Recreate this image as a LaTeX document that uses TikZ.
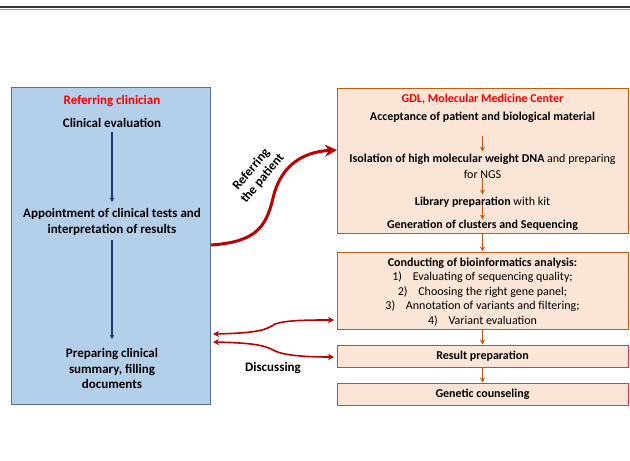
\documentclass[tikz,border=0pt]{standalone}
\usepackage{fontspec}
\setmainfont{Carlito}
\usetikzlibrary{arrows.meta}
\definecolor{clinfill}{HTML}{B4CFEA}
\definecolor{clindraw}{HTML}{5A6F96}
\definecolor{labfill}{HTML}{FBE5D6}
\definecolor{labdraw}{HTML}{C55A11}
\definecolor{resdraw}{HTML}{E03C3C}
\definecolor{navy}{HTML}{1F3864}
\definecolor{darkred}{HTML}{C00000}
\tikzset{
  ltxt/.style={font=\fontsize{12}{16}\selectfont, align=center, inner sep=0pt},
  lbtxt/.style={font=\fontsize{12}{16}\selectfont\bfseries, align=center, inner sep=0pt},
  ctxt/.style={font=\fontsize{13}{16}\selectfont\bfseries, align=center, inner sep=0pt},
  ctitle/.style={ctxt, text=red},
  ltitle/.style={lbtxt, text=red},
  clinbox/.style={draw=clindraw, line width=1pt, fill=clinfill, inner sep=0pt},
  labbox/.style={draw=labdraw, line width=1pt, fill=labfill, inner sep=0pt},
  resbox/.style={draw=resdraw, line width=1pt, fill=labfill, inner sep=0pt},
  navyarrow/.style={draw=navy, line width=1.3pt, -{Stealth[length=4.5pt,width=4.5pt]}},
  orarrow/.style={draw=labdraw, line width=1.4pt, -{Stealth[length=5pt,width=5pt]}},
  refarrow/.style={draw=darkred, line width=3pt, -{Stealth[length=12pt,width=12pt]}},
  discarrow/.style={draw=darkred, line width=1.6pt, {Stealth[length=6pt,width=6pt]}-{Stealth[length=6pt,width=6pt]}},
}
\begin{document}
\begin{tikzpicture}[x=1pt, y=-1pt]
\useasboundingbox (0,0) rectangle (630,461);
% header rule
\draw[line width=2pt, draw=black!80] (0,7) -- (630,7);
\draw[line width=0.8pt, draw=black!40] (0,9.3) -- (630,9.3);

% referring clinician column
\node[clinbox, minimum width=199pt, minimum height=317pt] (clin) at (110.5,245.5) {};
\node[ctitle] (clinT) at (112,101) {Referring clinician};
\node[ctxt] (ceval) at (112,123) {Clinical evaluation};
\node[ctxt] (appt) at (112,221.5) {Appointment of clinical tests and\\interpretation of results};
\node[ctxt, font=\fontsize{13}{15.5}\selectfont\bfseries] (prep) at (112,368.5) {Preparing clinical\\summary, filling\\documents};
\draw[navyarrow] ([yshift=-4pt]ceval.south) -- ([yshift=5.5pt]appt.north);
\draw[navyarrow] ([yshift=-4.5pt]appt.south) -- ([yshift=9pt]prep.north);

% laboratory boxes
\node[labbox, minimum width=291pt, minimum height=145pt] (lab) at (482.5,160.5) {};
\node[labbox, minimum width=291pt, minimum height=77pt] (bio) at (482.5,290.5) {};
\node[resbox, minimum width=291pt, minimum height=22pt] (res) at (482.5,356) {};
\node[resbox, minimum width=291pt, minimum height=22pt] (gen) at (482.5,394) {};

\node[ltitle] (labT) at (482.5,99) {GDL, Molecular Medicine Center};
\node[lbtxt] (acc) at (482.5,117) {Acceptance of patient and biological material};
\node[ltxt] (iso) at (482.5,166) {\textbf{Isolation of high molecular weight DNA} and preparing\\for NGS};
\node[ltxt] (lib) at (482.5,202) {\textbf{Library preparation} with kit};
\node[lbtxt] (seq) at (482.5,225) {Generation of clusters and Sequencing};
\node[ltxt, font=\fontsize{12}{14.4}\selectfont] (bioT) at (482.5,292) {\textbf{Conducting of bioinformatics analysis:}\\
  1)\hspace{0.9em}Evaluating of sequencing quality;\\
  2)\hspace{0.9em}Choosing the right gene panel;\\
  3)\hspace{0.9em}Annotation of variants and filtering;\\
  4)\hspace{0.9em}Variant evaluation};
\node[lbtxt] at (res.center) (resT) {Result preparation};
\node[lbtxt] at (gen.center) (genT) {Genetic counseling};

\draw[orarrow] ([yshift=-14pt]acc.south) -- ([yshift=2pt]iso.north);
\draw[orarrow] (iso.south) -- ([yshift=2pt]lib.north);
\draw[orarrow] ([yshift=2pt]lib.south) -- (seq.north);
\draw[orarrow] (lab.south) -- (bio.north);
\draw[orarrow] (bio.south) -- (res.north);
\draw[orarrow] (res.south) -- (gen.north);

% referral arrow
\coordinate (r0) at (211,245);
\coordinate (r1) at (273,198);
\coordinate (r2) at (337,150);
\draw[refarrow] (r0) .. controls (255,242) and (266,228) .. (r1)
  .. controls (280,168) and (300,152) .. (r2);
\node[ctxt, font=\fontsize{13}{14.5}\selectfont\bfseries, rotate=50] (refT) at (257,174) {Referring\\the patient};

% discussion arrows
\coordinate (d1l) at (213,334);
\coordinate (d1m) at (275,324);
\coordinate (d1r) at (334,320);
\coordinate (d2l) at (213,342);
\coordinate (d2m) at (275,351);
\coordinate (d2r) at (334,357);
\draw[discarrow] (d1l) .. controls (258,333) and (266,330) .. (d1m)
  .. controls (286,320) and (310,320) .. (d1r);
\draw[discarrow] (d2l) .. controls (258,343) and (266,346) .. (d2m)
  .. controls (286,356) and (310,357) .. (d2r);
\node[ctxt] (disc) at (273,368) {Discussing};
\end{tikzpicture}
\end{document}
